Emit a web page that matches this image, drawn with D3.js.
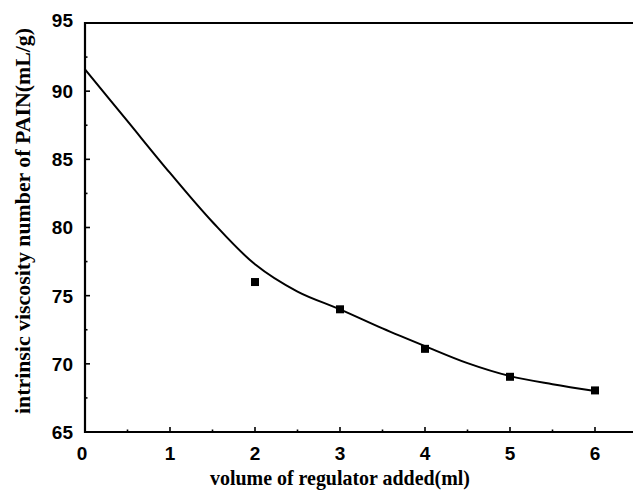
<!DOCTYPE html>
<html>
<head>
<meta charset="utf-8">
<script src="https://cdn.jsdelivr.net/npm/d3@7"></script>
<style>
  body { margin: 0; background: #fff; overflow: hidden; }
  svg { display: block; }
  .tick-label { font-family: "Liberation Sans", Arial, sans-serif; font-weight: bold; font-size: 19px; fill: #000; }
  .axis-title { font-family: "Liberation Serif", "Times New Roman", serif; font-weight: bold; font-size: 21px; fill: #000; }
</style>
</head>
<body>
<div id="chart"></div>
<script>
// measured points
var regulator = [2, 3, 4, 5, 6];
var viscosity = [76.0, 74.0, 71.1, 69.05, 68.05];

// fitted curve
var fitX = [0, 0.5, 1, 1.5, 2, 2.5, 3, 3.5, 4, 4.5, 5, 5.5, 6];
var fitY = [91.6, 87.8, 84.0, 80.4, 77.3, 75.3, 74.0, 72.6, 71.3, 70.05, 69.1, 68.5, 68.0];

var xTicks = [0, 1, 2, 3, 4, 5, 6];
var yTicks = [65, 70, 75, 80, 85, 90, 95];

var width = 633, height = 493;
var margin = {top: 23, left: 85, bottom: 61};

var svg = d3.select("#chart").append("svg")
    .attr("width", width)
    .attr("height", height);

var x = d3.scaleLinear().domain([0, 7]).range([margin.left, margin.left + 7 * 85]);
var y = d3.scaleLinear().domain([65, 95]).range([height - margin.bottom, margin.top]);

// frame: left, top, bottom (the right side is cut off by the picture edge)
var frame = svg.append("g").attr("stroke", "#000").attr("stroke-width", 2.2);
frame.append("line").attr("x1", x(0)).attr("x2", x(0)).attr("y1", y(95) - 1.1).attr("y2", y(65) + 1.1);
frame.append("line").attr("x1", x(0)).attr("x2", x(7)).attr("y1", y(95)).attr("y2", y(95));
frame.append("line").attr("x1", x(0)).attr("x2", x(7)).attr("y1", y(65)).attr("y2", y(65));

// x ticks (inward)
var xMinor = d3.range(0.5, 6.6, 1);
svg.selectAll(".xmaj").data(xTicks.slice(1)).enter().append("line")
    .attr("x1", function(d) { return x(d); })
    .attr("x2", function(d) { return x(d); })
    .attr("y1", y(65)).attr("y2", y(65) - 5)
    .attr("stroke", "#000").attr("stroke-width", 1.6);
svg.selectAll(".xmin").data(xMinor).enter().append("line")
    .attr("x1", function(d) { return x(d); })
    .attr("x2", function(d) { return x(d); })
    .attr("y1", y(65)).attr("y2", y(65) - 2.5)
    .attr("stroke", "#000").attr("stroke-width", 1.6);

svg.selectAll(".xlab").data(xTicks).enter().append("text")
    .attr("class", "tick-label")
    .attr("x", function(d) { return x(d) - (d == 0 ? 3 : 0); })
    .attr("y", y(65) + 28)
    .attr("text-anchor", "middle")
    .text(function(d) { return d; });

// y ticks (inward)
var yMinor = d3.range(67.5, 95, 5);
svg.selectAll(".ymaj").data(yTicks.slice(1, -1)).enter().append("line")
    .attr("x1", x(0)).attr("x2", x(0) + 5)
    .attr("y1", function(d) { return y(d); })
    .attr("y2", function(d) { return y(d); })
    .attr("stroke", "#000").attr("stroke-width", 1.6);
svg.selectAll(".ymin").data(yMinor).enter().append("line")
    .attr("x1", x(0)).attr("x2", x(0) + 2.5)
    .attr("y1", function(d) { return y(d); })
    .attr("y2", function(d) { return y(d); })
    .attr("stroke", "#000").attr("stroke-width", 1.6);

svg.selectAll(".ylab").data(yTicks).enter().append("text")
    .attr("class", "tick-label")
    .attr("x", x(0) - 12)
    .attr("y", function(d) { return y(d) + (d == 95 ? -3 : 0); })
    .attr("dy", "0.36em")
    .attr("text-anchor", "end")
    .text(function(d) { return d; });

// fitted curve
var line = d3.line()
    .x(function(d) { return x(d[0]); })
    .y(function(d) { return y(d[1]); })
    .curve(d3.curveCatmullRom);

svg.append("path")
    .datum(d3.zip(fitX, fitY))
    .attr("d", line)
    .attr("fill", "none")
    .attr("stroke", "#000")
    .attr("stroke-width", 2);

// markers
var sq = 8;
svg.selectAll(".pt").data(d3.zip(regulator, viscosity)).enter().append("rect")
    .attr("x", function(d) { return x(d[0]) - sq / 2; })
    .attr("y", function(d) { return y(d[1]) - sq / 2; })
    .attr("width", sq)
    .attr("height", sq)
    .attr("fill", "#000");

// axis titles
svg.append("text")
    .attr("class", "axis-title")
    .attr("x", 340)
    .attr("y", 485)
    .attr("text-anchor", "middle")
    .attr("textLength", 260)
    .attr("lengthAdjust", "spacingAndGlyphs")
    .text("volume of regulator added(ml)");

svg.append("text")
    .attr("class", "axis-title")
    .attr("transform", "translate(30,221) rotate(-90)")
    .attr("text-anchor", "middle")
    .attr("textLength", 386)
    .attr("lengthAdjust", "spacingAndGlyphs")
    .text("intrinsic viscosity number of PAIN(mL/g)");
</script>
</body>
</html>
